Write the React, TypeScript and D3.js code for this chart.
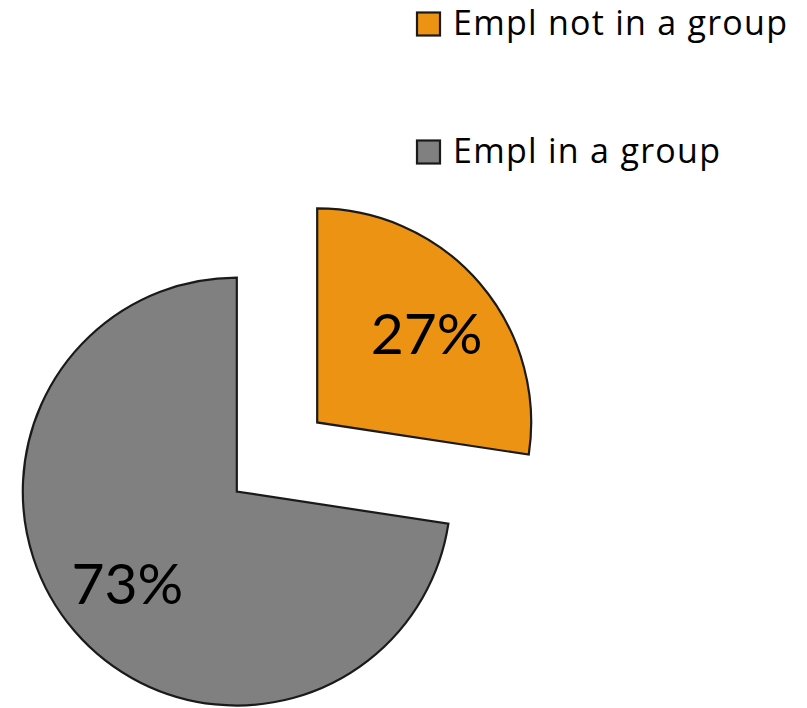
import React from "react";
import * as d3 from "d3";

const categories = ["Empl not in a group", "Empl in a group"];
const values = [27.4, 72.6];
const labels = ["27%", "73%"];
const colors = ["#ED9313", "#808080"];

const W = 807;
const H = 708;

export default function App() {
  const cx = 277;
  const cy = 457;
  const r = 214;
  const explode = 53;
  const pie = d3.pie<number>().sort(null).startAngle(0).endAngle(2 * Math.PI);
  const arcs = pie(values);
  const arc = d3.arc<d3.PieArcDatum<number>>().innerRadius(0).outerRadius(r);
  const labelArc = d3.arc<d3.PieArcDatum<number>>().innerRadius(139).outerRadius(139);
  const labelFont = "Lato, 'Noto Sans', sans-serif";
  const legendFont = "'Open Sans', 'Noto Sans', sans-serif";
  const legendWidths = [334, 267];

  return (
    <svg width={W} height={H} style={{ position: "absolute", left: 0, top: 0, background: "#fff" }}>
      {arcs.map((a, i) => {
        const mid = (a.startAngle + a.endAngle) / 2;
        const dx = Math.sin(mid) * explode;
        const dy = -Math.cos(mid) * explode;
        const [lx, ly] = labelArc.centroid(a);
        return (
          <g key={i} transform={`translate(${cx + dx},${cy + dy})`}>
            <path d={arc(a) || ""} fill={colors[i]} stroke="#1a1a1a" strokeWidth={2.2} strokeLinejoin="miter" />
            <text
              x={lx + (i === 0 ? 4 : -4)}
              y={ly}
              textAnchor="middle"
              dominantBaseline="central"
              fontSize={57}
              fontFamily={labelFont}
              fill="#000"
            >
              {labels[i]}
            </text>
          </g>
        );
      })}
      {categories.map((c, i) => {
        const y = 24 + i * 128;
        return (
          <g key={c}>
            <rect x={417} y={y - 11.5} width={23} height={23} fill={colors[i]} stroke="#1a1a1a" strokeWidth={2.2} />
            <text
              x={453}
              y={y + 11}
              fontSize={34}
              fontFamily={legendFont}
              fill="#000"
              textLength={legendWidths[i]}
              lengthAdjust="spacing"
            >
              {c}
            </text>
          </g>
        );
      })}
    </svg>
  );
}
